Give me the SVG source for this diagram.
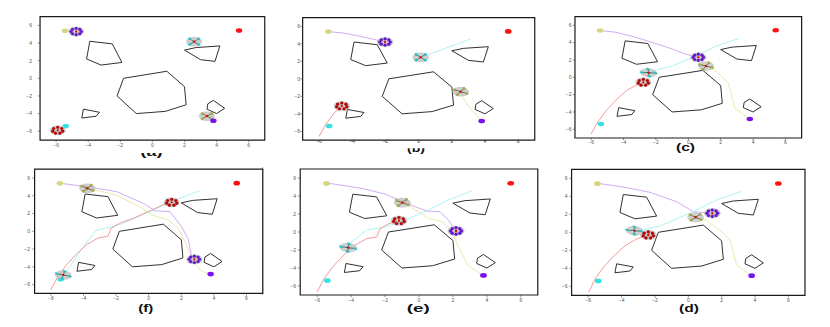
<svg xmlns="http://www.w3.org/2000/svg" xmlns:xlink="http://www.w3.org/1999/xlink" width="830" height="327" viewBox="0 0 830 327">
<style>
* { vector-effect: non-scaling-stroke; }
.frame { fill: none; stroke: #1a1a1a; stroke-width: 1.2; }
.tk { stroke: #444; stroke-width: 0.6; }
.obs { fill: none; stroke: #1a1a1a; stroke-width: 0.9; stroke-linejoin: round; }
.tr { fill: none; stroke-width: 0.9; stroke-linejoin: round; stroke-linecap: round; }
.pp { stroke: #c9a2f2; }
.pc { stroke: #a6f0f0; }
.pr { stroke: #f29090; }
.po { stroke: #e6e6a6; }
.disk { fill: #bdbdbd; fill-opacity: 0.75; }
.gR { fill: #ff1010; }
.gP { fill: #7a12ee; }
.gC { fill: #33e2e2; }
.gY { fill: #d6d680; }
.dR { fill: #c80000; stroke: #700000; stroke-width: 0.3; }
.dP { fill: #6a16e6; stroke: #3a0a80; stroke-width: 0.3; }
.dC { fill: #2cc4c4; }
.dO { fill: #a8a84a; }
.lC { stroke: #1b6a6a; stroke-width: 0.8; }
.lO { stroke: #4f5a1e; stroke-width: 0.8; }
.ctr { fill: #e80000; }
.tl { font-family: "Liberation Sans", Arial, sans-serif; font-size: 5px; fill: #555; }
.tx { text-anchor: middle; }
.ty { text-anchor: end; }
.lab { font-family: "Liberation Sans", Arial, sans-serif; font-size: 10px; font-weight: bold; fill: #111; text-anchor: middle; }
</style>
<defs>
  <g id="axes">
    <rect class="frame" x="-7" y="-7" width="14" height="14"/>
    <path class="tk" d="M-6 -7V-7.25M-4 -7V-7.25M-2 -7V-7.25M0 -7V-7.25M2 -7V-7.25M4 -7V-7.25M6 -7V-7.25M-7 -6H-7.14M-7 -4H-7.14M-7 -2H-7.14M-7 0H-7.14M-7 2H-7.14M-7 4H-7.14M-7 6H-7.14"/>
  </g>
  <g id="obstacles">
    <polygon class="obs" points="-3.9,4.2 -2.5,3.9 -1.9,1.8 -3.2,1.5 -4.1,2.2"/>
    <polygon class="obs" points="2.0,3.2 2.7,3.48 4.2,3.67 3.9,1.92 3.0,2.11"/>
    <polygon class="obs" points="-1.8,0.0 0.9,0.8 2.0,-0.95 2.1,-3.0 0.8,-3.75 -1.0,-4.0 -2.2,-2.0"/>
    <polygon class="obs" points="-4.3,-3.5 -3.3,-3.85 -3.5,-4.3 -4.4,-4.5"/>
    <polygon class="obs" points="3.8,-2.5 4.5,-3.4 4.0,-4.0 3.4,-3.5 3.45,-2.9"/>
  </g>
  <g id="goal-red"><ellipse class="gR" cx="5.4" cy="5.42" rx="0.2" ry="0.26"/></g>
  <g id="goal-purple"><ellipse class="gP" cx="3.8" cy="-4.82" rx="0.2" ry="0.26"/></g>
  <g id="goal-cyan"><ellipse class="gC" cx="-5.4" cy="-5.4" rx="0.2" ry="0.26"/></g>
  <g id="goal-yellow"><ellipse class="gY" cx="-5.45" cy="5.4" rx="0.2" ry="0.26"/></g>
  <g id="sw-purple">
    <ellipse class="disk" rx="0.5" ry="0.55"/>
    <ellipse class="dP" cx="0.32" cy="0" rx="0.09" ry="0.16"/>
    <ellipse class="dP" cx="0.226" cy="0.255" rx="0.09" ry="0.16"/>
    <ellipse class="dP" cx="0" cy="0.36" rx="0.09" ry="0.16"/>
    <ellipse class="dP" cx="-0.226" cy="0.255" rx="0.09" ry="0.16"/>
    <ellipse class="dP" cx="-0.32" cy="0" rx="0.09" ry="0.16"/>
    <ellipse class="dP" cx="-0.226" cy="-0.255" rx="0.09" ry="0.16"/>
    <ellipse class="dP" cx="0" cy="-0.36" rx="0.09" ry="0.16"/>
    <ellipse class="dP" cx="0.226" cy="-0.255" rx="0.09" ry="0.16"/>
    <ellipse class="ctr" rx="0.07" ry="0.13"/>
  </g>
  <g id="sw-red">
    <ellipse class="disk" rx="0.5" ry="0.55"/>
    <ellipse class="dR" cx="0" cy="0.34" rx="0.09" ry="0.16"/>
    <ellipse class="dR" cx="-0.25" cy="0.2" rx="0.09" ry="0.16"/>
    <ellipse class="dR" cx="-0.31" cy="-0.1" rx="0.09" ry="0.16"/>
    <ellipse class="dR" cx="-0.14" cy="-0.33" rx="0.09" ry="0.16"/>
    <ellipse class="dR" cx="0.14" cy="-0.33" rx="0.09" ry="0.16"/>
    <ellipse class="dR" cx="0.31" cy="-0.1" rx="0.09" ry="0.16"/>
    <ellipse class="dR" cx="0.25" cy="0.2" rx="0.09" ry="0.16"/>
    <ellipse class="ctr" rx="0.07" ry="0.13"/>
  </g>
  <g id="sw-cyan">
    <ellipse class="disk" rx="0.5" ry="0.55"/>
    <path class="lC" d="M-0.28 0.33L0.28 -0.33M-0.28 -0.33L0.28 0.33"/>
    <ellipse class="dC" cx="0.28" cy="0.33" rx="0.09" ry="0.16"/>
    <ellipse class="dC" cx="-0.28" cy="0.33" rx="0.09" ry="0.16"/>
    <ellipse class="dC" cx="0.28" cy="-0.33" rx="0.09" ry="0.16"/>
    <ellipse class="dC" cx="-0.28" cy="-0.33" rx="0.09" ry="0.16"/>
    <ellipse class="ctr" rx="0.07" ry="0.13"/>
  </g>
  <g id="sw-olive">
    <ellipse class="disk" rx="0.5" ry="0.55"/>
    <path class="lO" d="M-0.3 0.3L0.3 -0.3M-0.3 -0.3L0.3 0.3"/>
    <ellipse class="dO" cx="0.3" cy="0.3" rx="0.09" ry="0.16"/>
    <ellipse class="dO" cx="-0.3" cy="0.3" rx="0.09" ry="0.16"/>
    <ellipse class="dO" cx="0.3" cy="-0.3" rx="0.09" ry="0.16"/>
    <ellipse class="dO" cx="-0.3" cy="-0.3" rx="0.09" ry="0.16"/>
    <ellipse class="ctr" rx="0.07" ry="0.13"/>
  </g>
  <clipPath id="clipA"><rect x="120" y="153" width="70" height="15"/></clipPath>
  <clipPath id="clipB"><rect x="390" y="148.2" width="60" height="15"/></clipPath>
</defs>
<rect width="830" height="327" fill="#ffffff"/>

<!-- Panel (a) -->
<g id="panel-a">
  <g transform="matrix(16.05 0 0 -8.82 152.4 78.3)">
    <use href="#axes"/>
    <use href="#obstacles"/>
    <use href="#goal-red"/>
    <use href="#goal-yellow"/>
    <use href="#goal-cyan"/>
    <use href="#sw-purple" transform="translate(-4.75 5.3)"/>
    <use href="#sw-cyan" transform="translate(2.6 4.15)"/>
    <use href="#sw-olive" transform="translate(3.4 -4.3)"/>
    <use href="#sw-red" transform="translate(-5.9 -5.9)"/>
    <use href="#goal-purple"/>
  </g>
  <g class="tl tx">
    <text x="56.1" y="146.5">−6</text><text x="88.2" y="146.5">−4</text><text x="120.3" y="146.5">−2</text><text x="152.4" y="146.5">0</text><text x="184.5" y="146.5">2</text><text x="216.6" y="146.5">4</text><text x="248.7" y="146.5">6</text>
  </g>
  <g class="tl ty">
    <text x="32" y="27.2">6</text><text x="32" y="44.8">4</text><text x="32" y="62.5">2</text><text x="32" y="80.1">0</text><text x="32" y="97.7">−2</text><text x="32" y="115.4">−4</text><text x="32" y="133">−6</text>
  </g>
  <text class="lab" x="151.5" y="156" textLength="22" lengthAdjust="spacingAndGlyphs" clip-path="url(#clipA)">(a)</text>
</g>

<!-- Panel (b) -->
<g id="panel-b">
  <g transform="matrix(16.58 0 0 -8.75 418.7 78.8)">
    <use href="#axes"/>
    <use href="#obstacles"/>
    <polyline class="tr pp" points="-5.45,5.4 -4.5,5.22 -3.7,4.92 -2.8,4.55 -2.03,4.2"/>
    <polyline class="tr pc" points="3.09,4.51 1.7,3.55 0.12,2.45"/>
    <polyline class="tr pr" points="-6.0,-6.55 -5.6,-5.2 -5.1,-3.9 -4.64,-3.11"/>
    <polyline class="tr po" points="2.53,-1.47 2.7,-2.3 3.2,-3.6 3.8,-4.75"/>
    <use href="#goal-red"/>
    <use href="#goal-yellow"/>
    <use href="#goal-cyan"/>
    <use href="#goal-purple"/>
    <use href="#sw-purple" transform="translate(-2.03 4.2)"/>
    <use href="#sw-cyan" transform="translate(0.12 2.45)"/>
    <use href="#sw-olive" transform="translate(2.53 -1.47) rotate(15)"/>
    <use href="#sw-red" transform="translate(-4.64 -3.11)"/>
  </g>
  <g class="tl tx">
    <text x="319.2" y="143">−6</text><text x="352.4" y="143">−4</text><text x="385.5" y="143">−2</text><text x="418.7" y="143">0</text><text x="451.9" y="143">2</text><text x="485" y="143">4</text><text x="518.2" y="143">6</text>
  </g>
  <g class="tl ty">
    <text x="300" y="28.1">6</text><text x="300" y="45.6">4</text><text x="300" y="63.1">2</text><text x="300" y="80.6">0</text><text x="300" y="98.1">−2</text><text x="300" y="115.6">−4</text><text x="300" y="133.1">−6</text>
  </g>
  <text class="lab" x="416" y="152" textLength="18" lengthAdjust="spacingAndGlyphs" clip-path="url(#clipB)">(b)</text>
</g>

<!-- Panel (c) -->
<g id="panel-c">
  <g transform="matrix(16.19 0 0 -8.67 688.3 77.3)">
    <use href="#axes"/>
    <use href="#obstacles"/>
    <polyline class="tr pp" points="-5.41,5.38 -4.5,5.2 -3.5,4.75 -2.37,4.11 -1.2,3.4 -0.2,2.7 0.62,2.3"/>
    <polyline class="tr pc" points="3.1,4.45 1.7,3.58 0.4,2.4 -1.0,1.3 -1.75,0.95 -2.45,0.53"/>
    <polyline class="tr pr" points="-6.0,-6.5 -5.6,-5.2 -5.1,-3.9 -4.4,-2.5 -3.8,-1.5 -3.2,-0.9 -2.78,-0.58"/>
    <polyline class="tr po" points="1.09,1.3 1.75,0.65 2.47,-0.69 2.88,-3.58 3.77,-4.77"/>
    <use href="#goal-red"/>
    <use href="#goal-yellow"/>
    <use href="#goal-cyan"/>
    <use href="#goal-purple"/>
    <use href="#sw-purple" transform="translate(0.62 2.3)"/>
    <use href="#sw-olive" transform="translate(1.09 1.3) rotate(20)"/>
    <use href="#sw-cyan" transform="translate(-2.45 0.53) rotate(45)"/>
    <use href="#sw-red" transform="translate(-2.78 -0.58)"/>
  </g>
  <g class="tl tx">
    <text x="591.2" y="143.5">−6</text><text x="623.5" y="143.5">−4</text><text x="655.9" y="143.5">−2</text><text x="688.3" y="143.5">0</text><text x="720.7" y="143.5">2</text><text x="753.1" y="143.5">4</text><text x="785.4" y="143.5">6</text>
  </g>
  <g class="tl ty">
    <text x="571.5" y="27.1">6</text><text x="571.5" y="44.4">4</text><text x="571.5" y="61.8">2</text><text x="571.5" y="79.1">0</text><text x="571.5" y="96.4">−2</text><text x="571.5" y="113.8">−4</text><text x="571.5" y="131.1">−6</text>
  </g>
  <text class="lab" x="685.5" y="151.4" textLength="19" lengthAdjust="spacingAndGlyphs">(c)</text>
</g>

<!-- Panel (f) -->
<g id="panel-f">
  <line x1="262.5" y1="167" x2="262.5" y2="295" stroke="#9a9a9a" stroke-width="0.8"/>
  <g transform="matrix(16.3 0 0 -8.88 148.7 231.3)">
    <use href="#axes"/>
    <use href="#obstacles"/>
    <polyline class="tr po" points="-3.77,4.84 -2.0,4.1 -0.53,2.76 0.18,1.84 1.2,1.27 1.82,0.34 2.23,-1.2 2.6,-2.8 3.15,-4.37 3.76,-4.88"/>
    <polyline class="tr pp" points="-5.4,5.4 -3.7,5.0 -1.96,4.46 -0.33,3.15 0.39,2.32 1.31,2.21 2.02,0.52 2.43,-0.9 2.64,-2.86 2.8,-3.16"/>
    <polyline class="tr pc" points="3.09,4.54 1.7,3.58 0.28,2.4 -1.56,0.9 -2.37,0.45 -3.19,0.15 -4.01,-1.73 -4.83,-3.98 -5.24,-4.92"/>
    <polyline class="tr pr" points="-6.0,-6.55 -5.6,-5.2 -5.1,-3.9 -4.4,-2.5 -3.8,-1.5 -3.1,-0.75 -2.5,-0.55 -2.3,0.35 -1.8,0.9 -0.94,1.46 0.28,2.48 0.9,3.0 1.41,3.26"/>
    <use href="#goal-red"/>
    <use href="#goal-yellow"/>
    <use href="#goal-cyan"/>
    <use href="#goal-purple"/>
    <use href="#sw-olive" transform="translate(-3.77 4.84) rotate(10)"/>
    <use href="#sw-red" transform="translate(1.41 3.26)"/>
    <use href="#sw-purple" transform="translate(2.8 -3.16)"/>
    <use href="#sw-cyan" transform="translate(-5.24 -4.92) rotate(30)"/>
  </g>
  <g class="tl tx">
    <text x="50.9" y="300">−6</text><text x="83.5" y="300">−4</text><text x="116.1" y="300">−2</text><text x="148.7" y="300">0</text><text x="181.3" y="300">2</text><text x="213.9" y="300">4</text><text x="246.5" y="300">6</text>
  </g>
  <g class="tl ty">
    <text x="30" y="179.8">6</text><text x="30" y="197.6">4</text><text x="30" y="215.3">2</text><text x="30" y="233.1">0</text><text x="30" y="250.9">−2</text><text x="30" y="268.6">−4</text><text x="30" y="286.4">−6</text>
  </g>
  <text class="lab" x="145.7" y="312" textLength="15" lengthAdjust="spacingAndGlyphs">(f)</text>
</g>

<!-- Panel (e) -->
<g id="panel-e">
  <g transform="matrix(16.97 0 0 -9 419 232)">
    <use href="#axes"/>
    <use href="#obstacles"/>
    <polyline class="tr po" points="-0.98,3.26 -0.24,2.5 0.55,1.52 1.34,1.15 1.9,0.2 2.42,-2.0 2.91,-3.78 3.81,-4.89"/>
    <polyline class="tr pp" points="-5.4,5.44 -3.38,4.85 -2.0,4.22 -0.24,2.81 0.45,2.33 1.24,2.26 1.73,1.33 2.18,0.11"/>
    <polyline class="tr pc" points="3.1,4.56 1.73,3.56 0.55,2.44 -1.02,1.15 -2.2,0.48 -3.08,0.22 -3.97,-1.08 -4.17,-1.74"/>
    <polyline class="tr pr" points="-6.0,-6.63 -5.6,-5.2 -5.1,-3.9 -4.4,-2.5 -3.8,-1.5 -3.1,-0.75 -2.5,-0.55 -2.3,0.35 -1.8,0.9 -1.18,1.26"/>
    <use href="#goal-red"/>
    <use href="#goal-yellow"/>
    <use href="#goal-cyan"/>
    <use href="#goal-purple"/>
    <use href="#sw-olive" transform="translate(-0.98 3.26) rotate(10)"/>
    <use href="#sw-red" transform="translate(-1.18 1.26)"/>
    <use href="#sw-purple" transform="translate(2.18 0.11)"/>
    <use href="#sw-cyan" transform="translate(-4.17 -1.74) rotate(35)"/>
  </g>
  <g class="tl tx">
    <text x="317.2" y="301.5">−6</text><text x="351.1" y="301.5">−4</text><text x="385.1" y="301.5">−2</text><text x="419" y="301.5">0</text><text x="452.9" y="301.5">2</text><text x="486.9" y="301.5">4</text><text x="520.8" y="301.5">6</text>
  </g>
  <g class="tl ty">
    <text x="296" y="179.8">6</text><text x="296" y="197.8">4</text><text x="296" y="215.8">2</text><text x="296" y="233.8">0</text><text x="296" y="251.8">−2</text><text x="296" y="269.8">−4</text><text x="296" y="287.8">−6</text>
  </g>
  <text class="lab" x="418.3" y="312" textLength="23" lengthAdjust="spacingAndGlyphs">(e)</text>
</g>

<!-- Panel (d) -->
<g id="panel-d">
  <g transform="matrix(16.67 0 0 -9 688.3 232.3)">
    <use href="#axes"/>
    <use href="#obstacles"/>
    <polyline class="tr po" points="0.44,1.67 1.1,1.29 2.0,0.07 2.5,-0.86 2.9,-3.63 3.8,-4.86"/>
    <polyline class="tr pp" points="-5.4,5.44 -3.8,5.0 -2.3,4.44 -0.7,3.4 0.3,2.29 1.44,2.11"/>
    <polyline class="tr pc" points="3.14,4.52 1.7,3.59 0.3,2.29 -1.7,0.7 -2.3,0.44 -2.9,0.26 -3.24,0.18"/>
    <polyline class="tr pr" points="-5.96,-6.6 -5.6,-5.2 -5.1,-3.9 -4.4,-2.5 -3.8,-1.5 -3.1,-0.75 -2.4,-0.3"/>
    <use href="#goal-red"/>
    <use href="#goal-yellow"/>
    <use href="#goal-cyan"/>
    <use href="#goal-purple"/>
    <use href="#sw-olive" transform="translate(0.44 1.67) rotate(5)"/>
    <use href="#sw-purple" transform="translate(1.44 2.11)"/>
    <use href="#sw-cyan" transform="translate(-3.24 0.18) rotate(40)"/>
    <use href="#sw-red" transform="translate(-2.4 -0.3)"/>
  </g>
  <g class="tl tx">
    <text x="588.3" y="301.8">−6</text><text x="621.6" y="301.8">−4</text><text x="655" y="301.8">−2</text><text x="688.3" y="301.8">0</text><text x="721.6" y="301.8">2</text><text x="755" y="301.8">4</text><text x="788.3" y="301.8">6</text>
  </g>
  <g class="tl ty">
    <text x="567.5" y="180.1">6</text><text x="567.5" y="198.1">4</text><text x="567.5" y="216.1">2</text><text x="567.5" y="234.1">0</text><text x="567.5" y="252.1">−2</text><text x="567.5" y="270.1">−4</text><text x="567.5" y="288.1">−6</text>
  </g>
  <text class="lab" x="689" y="312" textLength="20" lengthAdjust="spacingAndGlyphs">(d)</text>
</g>
</svg>
